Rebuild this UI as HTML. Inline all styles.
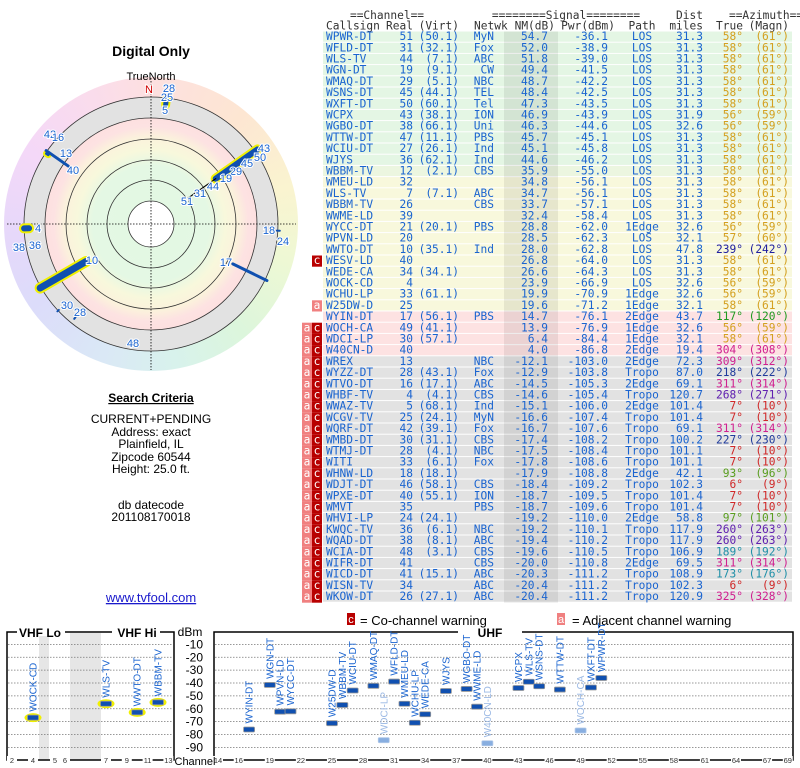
<!DOCTYPE html>
<html><head><meta charset="utf-8"><style>
body{margin:0;background:#fff;width:800px;height:768px;overflow:hidden;position:relative;font-family:"Liberation Sans",sans-serif}
#polar-bg{position:absolute;left:4px;top:77px;width:294px;height:294px;border-radius:50%;
background:conic-gradient(from 0deg,#fde0e0 0deg,#fde6d2 40deg,#faf4d0 75deg,#eef8d4 105deg,#dcf6dc 140deg,#d8f2ec 170deg,#dae8f6 200deg,#dcdcfa 235deg,#e6d8fa 265deg,#f4d8f8 300deg,#fadcec 335deg,#fde0e0 360deg)}
svg{position:absolute;left:0;top:0}
</style></head><body>
<div id="polar-bg"></div>
<svg id="s" width="800" height="768">
<defs><radialGradient id="rg" cx="50%" cy="50%" r="50%">
<stop offset="0" stop-color="#e2f8e2"/><stop offset="0.55" stop-color="#e4f8e4"/><stop offset="0.7" stop-color="#f8f8dc"/><stop offset="0.82" stop-color="#fbf2dc"/><stop offset="0.92" stop-color="#fde2e2"/><stop offset="1" stop-color="#fde0e0"/></radialGradient></defs>
<g id="polar"></g>
<g id="left" font-family="Liberation Sans, sans-serif" text-anchor="middle" fill="#000">
<text x="151" y="56" font-size="14" font-weight="bold">Digital Only</text>
<text x="151" y="80" font-size="11">TrueNorth</text>
<text x="151" y="402" font-size="12" font-weight="bold" text-decoration="underline">Search Criteria</text>
<text x="151" y="423" font-size="12">CURRENT+PENDING</text>
<text x="151" y="436" font-size="12">Address: exact</text>
<text x="151" y="448" font-size="12">Plainfield, IL</text>
<text x="151" y="461" font-size="12">Zipcode 60544</text>
<text x="151" y="473" font-size="12">Height: 25.0 ft.</text>
<text x="151" y="509" font-size="12">db datecode</text>
<text x="151" y="521" font-size="12">201108170018</text>
<text x="151" y="602" font-size="13" fill="#1a1acc" text-decoration="underline">www.tvfool.com</text>
</g>
<g id="table" font-family="DejaVu Sans Mono, monospace" font-size="11.2"></g>
<g id="bottom" font-family="Liberation Sans, sans-serif"></g>
</svg>
<script>
const NS="http://www.w3.org/2000/svg";
function mk(p,t,a,txt){const e=document.createElementNS(NS,t);for(const k in a)e.setAttribute(k,a[k]);if(txt!==undefined)e.textContent=txt;p.appendChild(e);return e;}
/* ---------- TABLE DATA ---------- */
const callsigns=["WPWR-DT","WFLD-DT","WLS-TV","WGN-DT","WMAQ-DT","WSNS-DT","WXFT-DT","WCPX","WGBO-DT","WTTW-DT","WCIU-DT","WJYS","WBBM-TV","WMEU-LD","WLS-TV","WBBM-TV","WWME-LD","WYCC-DT","WPVN-LD","WWTO-DT","WESV-LD","WEDE-CA","WOCK-CD","WCHU-LP","W25DW-D","WYIN-DT","WOCH-CA","WDCI-LP","W40CN-D","WREX","WYZZ-DT","WTVO-DT","WHBF-TV","WWAZ-TV","WCGV-TV","WQRF-DT","WMBD-DT","WTMJ-DT","WITI","WHNW-LD","WDJT-DT","WPXE-DT","WMVT","WHVI-LP","KWQC-TV","WQAD-DT","WCIA-DT","WIFR-DT","WICD-DT","WISN-TV","WKOW-DT"];
const realCh=[51,31,44,19,29,45,50,43,38,47,27,36,12,32,7,26,39,21,20,10,40,34,4,33,25,17,49,30,40,13,28,16,4,5,25,42,30,28,33,18,46,40,35,24,36,38,48,41,41,34,26];
const virtCh=["50.1","32.1","7.1","9.1","5.1","44.1","60.1","38.1","66.1","11.1","26.1","62.1","2.1","","7.1","","","20.1","","35.1","","34.1","","61.1","","56.1","41.1","57.1","","","43.1","17.1","4.1","68.1","24.1","39.1","31.1","4.1","6.1","18.1","58.1","55.1","","24.1","6.1","8.1","3.1","","15.1","","27.1"];
const networks=["MyN","Fox","ABC","CW","NBC","TEL","Tel","ION","Uni","PBS","Ind","Ind","CBS","","ABC","CBS","","PBS","","Ind","","","","","","PBS","","","","NBC","Fox","ABC","CBS","Ind","MyN","Fox","CBS","NBC","Fox","","CBS","ION","PBS","","NBC","ABC","CBS","CBS","ABC","ABC","ABC"];
const nmDb=[54.7,52.0,51.8,49.4,48.7,48.4,47.3,46.9,46.3,45.7,45.1,44.6,35.9,34.8,34.7,33.7,32.4,28.8,28.5,28.0,26.8,26.6,23.9,19.9,19.6,14.7,13.9,6.4,4.0,-12.1,-12.9,-14.5,-14.6,-15.1,-16.6,-16.7,-17.4,-17.5,-17.8,-17.9,-18.4,-18.7,-18.7,-19.2,-19.2,-19.4,-19.6,-20.0,-20.3,-20.4,-20.4];
const pwrDbm=[-36.1,-38.9,-39.0,-41.5,-42.2,-42.5,-43.5,-43.9,-44.6,-45.1,-45.8,-46.2,-55.0,-56.1,-56.1,-57.1,-58.4,-62.0,-62.3,-62.8,-64.0,-64.3,-66.9,-70.9,-71.2,-76.1,-76.9,-84.4,-86.8,-103.0,-103.8,-105.3,-105.4,-106.0,-107.4,-107.6,-108.2,-108.4,-108.6,-108.8,-109.2,-109.5,-109.6,-110.0,-110.1,-110.2,-110.5,-110.8,-111.2,-111.2,-111.2];
const paths=["LOS","LOS","LOS","LOS","LOS","LOS","LOS","LOS","LOS","LOS","LOS","LOS","LOS","LOS","LOS","LOS","LOS","1Edge","LOS","LOS","LOS","LOS","LOS","1Edge","1Edge","2Edge","1Edge","1Edge","2Edge","2Edge","Tropo","2Edge","Tropo","2Edge","Tropo","Tropo","Tropo","Tropo","Tropo","2Edge","Tropo","Tropo","Tropo","2Edge","Tropo","Tropo","Tropo","2Edge","Tropo","Tropo","Tropo"];
const distMi=[31.3,31.3,31.3,31.3,31.3,31.3,31.3,31.9,32.6,31.3,31.3,31.3,31.3,31.3,31.3,31.3,31.3,32.6,32.1,47.8,31.3,31.3,32.6,32.6,32.1,43.7,32.6,32.1,19.4,72.3,87.0,69.1,120.7,101.4,101.4,69.1,100.2,101.1,101.1,42.1,102.3,101.4,101.4,58.8,117.9,117.9,106.9,69.5,108.9,102.3,120.9];
const azTrue=[58,58,58,58,58,58,58,56,56,58,58,58,58,58,58,58,58,56,57,239,58,58,56,56,58,117,56,58,304,309,218,311,268,7,7,311,227,7,7,93,6,7,7,97,260,260,189,311,173,6,325];
const azMagn=[61,61,61,61,61,61,61,59,59,61,61,61,61,61,61,61,61,59,60,242,61,61,59,59,61,120,59,61,308,312,222,314,271,10,10,314,230,10,10,96,9,10,10,101,263,263,192,314,176,9,328];
const warnings=["","","","","","","","","","","","","","","","","","","","","c","","","","a","","ac","ac","ac","ac","ac","ac","ac","ac","ac","ac","ac","ac","ac","ac","ac","ac","ac","ac","ac","ac","ac","ac","ac","ac","ac"];
function azColor(a){if(a<=10)return"#d02828";if(a<80)return"#d4a020";if(a<110)return"#5a9e20";if(a<150)return"#209a20";if(a<200)return"#2090a8";if(a<235)return"#203c9c";if(a<250)return"#2020a0";if(a<290)return"#6020b0";return"#d02090";}
function rowBg(i){if(nmDb[i]>=40)return"#e4f6e4";if(nmDb[i]>=35)return"#ecf6e0";if(nmDb[i]>=15)return"#f8f8dc";if(nmDb[i]>=0)return"#fde2e2";return"#e2e2e2";}
const T=document.getElementById("table");
const ROW0=31.5,RH=11.2;
// headers
const hdr=mk(T,"g",{fill:"#333"});


const h1=[["==Channel==",387,"middle"],["========Signal========",566,"middle"],["Dist",703,"end"],["==Azimuth==",766,"middle"]];
h1.forEach(h=>{const t=mk(hdr,"text",{x:h[1],y:19,"text-anchor":h[2]},h[0]);});
const h2=[["Callsign",326,"start"],["Real",413,"end"],["(Virt)",459,"end"],["Netwk",474,"start"],["NM(dB)",555,"end"],["Pwr(dBm)",615,"end"],["Path",642,"middle"],["miles",703,"end"],["True",743,"end"],["(Magn)",789,"end"]];
h2.forEach(h=>{const t=mk(hdr,"text",{x:h[1],y:29.5,"text-anchor":h[2]},h[0]);});
callsigns.forEach((c,i)=>{
  const y=ROW0+i*RH, by=y+8.6;
  const g=mk(T,"g",{});
  
  
  mk(g,"rect",{x:323,y:y,width:469,height:RH-1,fill:rowBg(i)});
  mk(g,"rect",{x:504,y:y,width:54,height:RH,fill:"rgba(0,0,0,0.07)"});
  const w=warnings[i];
  if(w.includes("c")){const r=mk(g,"rect",{x:312,y:y,width:10,height:RH,fill:"#b80000"});mk(g,"text",{x:317,y:by,"text-anchor":"middle",fill:"#fff"},"c");}
  if(w.includes("a")){const ax=w==="a"?312:302;mk(g,"rect",{x:ax,y:y,width:10,height:RH,fill:"#f08080"});mk(g,"text",{x:ax+5,y:by,"text-anchor":"middle",fill:"#fff"},"a");}
  const b="#1a64d0";
  mk(g,"text",{x:326,y:by,fill:b},c);
  mk(g,"text",{x:413,y:by,fill:b,"text-anchor":"end"},String(realCh[i]));
  if(virtCh[i])mk(g,"text",{x:459,y:by,fill:b,"text-anchor":"end"},"("+virtCh[i]+")");
  if(networks[i])mk(g,"text",{x:494,y:by,fill:b,"text-anchor":"end"},networks[i]);
  mk(g,"text",{x:548,y:by,fill:b,"text-anchor":"end"},nmDb[i].toFixed(1));
  mk(g,"text",{x:608,y:by,fill:b,"text-anchor":"end"},pwrDbm[i].toFixed(1));
  mk(g,"text",{x:642,y:by,fill:b,"text-anchor":"middle"},paths[i]);
  mk(g,"text",{x:703,y:by,fill:b,"text-anchor":"end"},distMi[i].toFixed(1));
  const ac=azColor(azTrue[i]);
  mk(g,"text",{x:743,y:by,fill:ac,"text-anchor":"end"},azTrue[i]+"°");
  mk(g,"text",{x:789,y:by,fill:ac,"text-anchor":"end"},"("+azMagn[i]+"°)");
});
/* ---------- POLAR ---------- */
const P=document.getElementById("polar");const CX=151,CY=224;
const polarAz=[55,55,7,304,305,268,93,240,116,227,219,189];
const polarR1=[79,45,120,124,101,122,126,75,91,126,120,120];
const polarR2=[130,79,125,126,128,127,129,128,129,128,122,123];
const polarW=[6,1.2,5,3,3,6,2,7,3,2,2,2];
const polarHalo=[1,0,1,1,0,1,0,1,0,0,0,0];
function pxy(a,r){const t=a*Math.PI/180;return[CX+r*Math.sin(t),CY-r*Math.cos(t)];}
mk(P,"circle",{cx:CX,cy:CY,r:127,fill:"#e2e2e2",stroke:"#333","stroke-width":0.8});
mk(P,"circle",{cx:CX,cy:CY,r:106,fill:"url(#rg)",stroke:"#333","stroke-width":0.8});
[85,64,44].forEach(r=>mk(P,"circle",{cx:CX,cy:CY,r:r,fill:"none",stroke:"#333","stroke-width":0.8}));
mk(P,"circle",{cx:CX,cy:CY,r:23,fill:"#fff",stroke:"#333","stroke-width":0.8});
mk(P,"line",{x1:7,y1:CY,x2:296,y2:CY,stroke:"#000","stroke-width":0.8,"stroke-dasharray":"1.5,1.5"});
mk(P,"line",{x1:CX,y1:78,x2:CX,y2:370,stroke:"#000","stroke-width":0.8,"stroke-dasharray":"1.5,1.5"});
polarAz.forEach((a,i)=>{
  const p1=pxy(a,polarR1[i]),p2=pxy(a,polarR2[i]);
  if(polarHalo[i]){const h=mk(P,"line",{x1:p1[0],y1:p1[1],x2:p2[0],y2:p2[1],stroke:"#f0f000","stroke-width":polarW[i]+4,"stroke-linecap":"round"});}
  const l=mk(P,"line",{x1:p1[0],y1:p1[1],x2:p2[0],y2:p2[1],stroke:i===1?"#000":"#1050b0","stroke-width":polarW[i],"stroke-linecap":"round"});
  
  
});
const pl=[["N",149,93,"#d00000"],["28",169,92],["25",167,101],["5",165,114],["42",50,138],["16",58,141],["13",66,157],["40",73,174],["43",264,152],["50",260,161],["45",247,167],["29",236,175],["19",226,182],["44",213,190],["31",200,197],["51",187,205],["4",38,232],["38",19,251],["36",35,249],["18",269,234],["24",283,245],["10",92,264],["17",226,266],["30",67,309],["28",80,316],["48",133,347]];
pl.forEach(p=>{const t=mk(P,"text",{x:p[1],y:p[2],"font-size":11,"text-anchor":"middle",fill:p[3]||"#1a64d0",stroke:"#fff","stroke-width":2,"paint-order":"stroke"},p[0]);});
/* ---------- BOTTOM CHART ---------- */
const B=document.getElementById("bottom");
const dbTicks=[-10,-20,-30,-40,-50,-60,-70,-80,-90];
const vhfTicks=[2,4,5,6,7,9,11,13];
const uhfTicks=[14,16,19,22,25,28,31,34,37,40,43,46,49,52,55,58,61,64,67,69];
const vhfNames=["WOCK-CD","WLS-TV","WWTO-DT","WBBM-TV"];
const vhfCh=[4,7,10,12];
const vhfDbm=[-66.9,-56.1,-62.8,-55.0];
const uhfNames=["WYIN-DT","WGN-DT","WPVN-LD","WYCC-DT","W25DW-D","WBBM-TV","WCIU-DT","WMAQ-DT","WDCI-LP","WFLD-DT","WMEU-LD","WCHU-LP","WEDE-CA","WJYS","WGBO-DT","WWME-LD","W40CN-LD","WCPX","WLS-TV","WSNS-DT","WTTW-DT","WOCH-CA","WXFT-DT","WPWR-DT"];
const uhfCh=[17,19,20,21,25,26,27,29,30,31,32,33,34,36,38,39,40,43,44,45,47,49,50,51];
const uhfDbm=[-76.1,-41.5,-62.3,-62.0,-71.2,-57.1,-45.8,-42.2,-84.4,-38.9,-56.1,-70.9,-64.3,-46.2,-44.6,-58.4,-86.8,-43.9,-39.0,-42.5,-45.1,-76.9,-43.5,-36.1];
const uhfFaded=[0,0,0,0,0,0,0,0,1,0,0,0,0,0,0,0,1,0,0,0,0,1,0,0];
function yDb(d){return 631.5+(-d)*1.2875;}
function xUhf(c){return 218+(c-14)*10.36;}
function xVhf(c){if(c<=4)return 12+(c-2)*10.5;if(c===5)return 55;if(c===6)return 65;return 106+(c-7)*10.4;}
// bands
mk(B,"rect",{x:39,y:633,width:10,height:127,fill:"#e6e6e6"});
mk(B,"rect",{x:70,y:633,width:31,height:127,fill:"#e6e6e6"});
dbTicks.forEach(d=>{
  const y=yDb(d);
  mk(B,"line",{x1:8,y1:y,x2:173,y2:y,stroke:"#777","stroke-width":0.7,"stroke-dasharray":"1.5,1.5"});
  mk(B,"line",{x1:215,y1:y,x2:792,y2:y,stroke:"#777","stroke-width":0.7,"stroke-dasharray":"1.5,1.5"});
  const t=mk(B,"text",{x:203,y:y+4,"font-size":12,"text-anchor":"end",fill:"#000"},String(d));
  
  
});
mk(B,"text",{x:190,y:636,"font-size":12,"text-anchor":"middle",fill:"#000"},"dBm");
// boxes
mk(B,"rect",{x:7,y:632,width:167,height:128,fill:"none",stroke:"#000","stroke-width":1.5});
mk(B,"rect",{x:214,y:632,width:579,height:128,fill:"none",stroke:"#000","stroke-width":1.5});
mk(B,"rect",{x:17,y:626,width:48,height:10,fill:"#fff"});
mk(B,"rect",{x:112,y:626,width:48,height:10,fill:"#fff"});
mk(B,"rect",{x:458,y:626,width:64,height:10,fill:"#fff"});
mk(B,"text",{x:40,y:637,"font-size":12,"font-weight":"bold","text-anchor":"middle"},"VHF Lo");
mk(B,"text",{x:137,y:637,"font-size":12,"font-weight":"bold","text-anchor":"middle"},"VHF Hi");
mk(B,"text",{x:490,y:637,"font-size":12,"font-weight":"bold","text-anchor":"middle"},"UHF");
// legend
mk(B,"rect",{x:347,y:613,width:8,height:12,fill:"#b80000"});
mk(B,"text",{x:351,y:623,"font-size":11,fill:"#fff","text-anchor":"middle"},"c");
mk(B,"text",{x:360,y:625,"font-size":13,fill:"#000"},"= Co-channel warning");
mk(B,"rect",{x:557,y:613,width:8,height:12,fill:"#f08080"});
mk(B,"text",{x:561,y:623,"font-size":11,fill:"#fff","text-anchor":"middle"},"a");
mk(B,"text",{x:572,y:625,"font-size":13,fill:"#000"},"= Adjacent channel warning");
// ticks
function tick(x,l){mk(B,"rect",{x:x-5,y:756,width:10,height:8,fill:"#fff"});const t=mk(B,"text",{x:x,y:763,"font-size":7.5,"text-anchor":"middle",fill:"#333"},String(l));}
vhfTicks.forEach(c=>tick(xVhf(c),c));
uhfTicks.forEach(c=>tick(xUhf(c),c));
mk(B,"rect",{x:176,y:755,width:37,height:12,fill:"#fff"});
mk(B,"text",{x:195,y:765,"font-size":11,"text-anchor":"middle",fill:"#000"},"Channel");
function marker(x,d,name,faded,halo){
  const y=yDb(d);
  const g=mk(B,"g",{});
  
  
  if(halo)mk(g,"ellipse",{cx:x,cy:y,rx:8.5,ry:4.5,fill:"#f0f000"});
  mk(g,"rect",{x:x-5.5,y:y-2.5,width:11,height:5,rx:1,fill:faded?"#88aee0":"#1050b0",stroke:faded?"#b0c8e8":"#999","stroke-width":0.8});
  const t=mk(g,"text",{x:x+3.5,y:y-6,"font-size":10,fill:faded?"#9ab8e4":"#1a64d0",transform:"rotate(-90 "+(x+3.5)+" "+(y-6)+")"},name);
}
vhfCh.forEach((c,i)=>marker(xVhf(c),vhfDbm[i],vhfNames[i],0,1));
uhfCh.forEach((c,i)=>marker(xUhf(c),uhfDbm[i],uhfNames[i],uhfFaded[i],0));
</script>
</body></html>
